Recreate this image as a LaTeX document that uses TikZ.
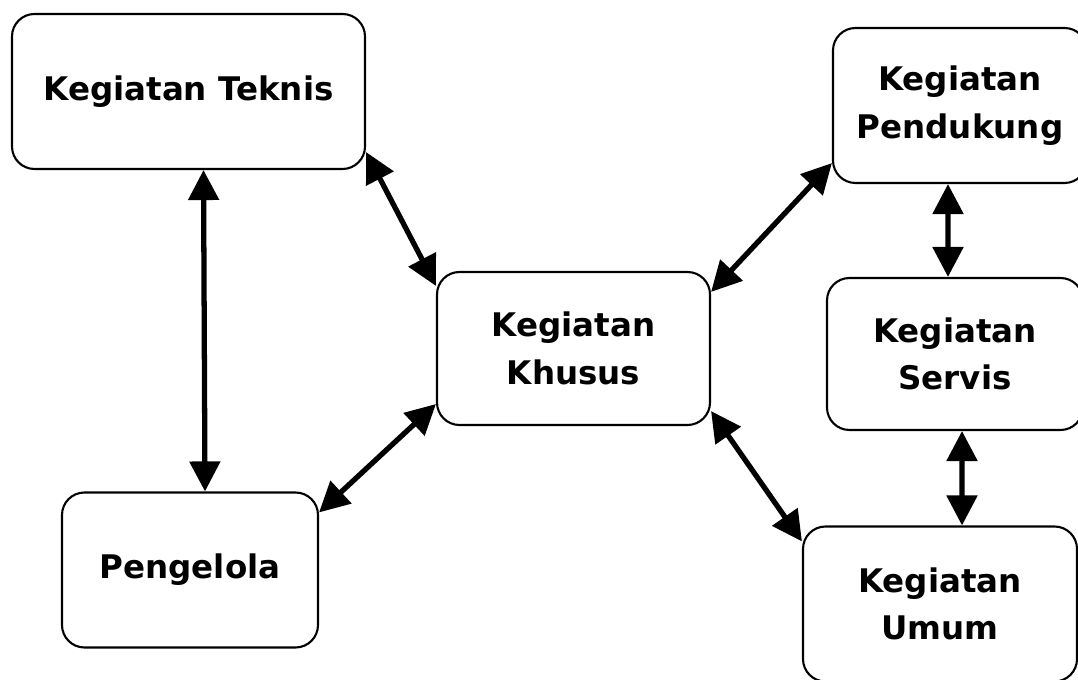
\documentclass[tikz,border=0pt]{standalone}
\usepackage{fontspec}
\setsansfont{DejaVu Sans}
\usepackage{tikz}
\usetikzlibrary{arrows.meta}

\begin{document}
\begin{tikzpicture}

		\tikzset{
			box/.style={
				draw,
				line width=1.2pt,
				rounded corners=0.45cm,
				minimum height=3.1cm,
				inner sep=0pt,
				align=center,
				font=\sffamily\bfseries\fontsize{18.5}{27}\selectfont
			},
			link/.style={
				{Triangle[length=6mm,width=6mm]}-{Triangle[length=6mm,width=6mm]},
				line width=3pt
			}
		}

		\useasboundingbox (0,0) rectangle (21.56,13.6);

		\node[box,minimum width=7.06cm] (T) at (3.77,11.77) {Kegiatan Teknis};
		\node[box,minimum width=5.08cm] (D) at (19.2,11.49) {Kegiatan\\Pendukung};
		\node[box,minimum width=5.46cm,minimum height=3.06cm] (K) at (11.47,6.63) {Kegiatan\\Khusus};
		\node[box,minimum width=5.12cm,minimum height=3.04cm] (S) at (19.1,6.52) {Kegiatan\\Servis};
		\node[box,minimum width=5.12cm] (P) at (3.8,2.2) {Pengelola};
		\node[box,minimum width=5.48cm] (U) at (18.8,1.52) {Kegiatan\\Umum};

		\draw[link] ([xshift=0.3cm]T.south) -- ([xshift=0.3cm]P.north);
		\draw[link] ([yshift=0.36cm]T.south east) -- ([yshift=-0.3cm]K.north west);
		\draw[link] ([yshift=0.42cm]D.south west) -- ([yshift=-0.42cm]K.north east);
		\draw[link] ([yshift=0.44cm]K.south west) -- ([yshift=-0.42cm]P.north east);
		\draw[link] ([yshift=0.3cm]K.south east) -- ([yshift=-0.32cm]U.north west);
		\draw[link] ([xshift=-0.24cm]D.south) -- ([xshift=-0.14cm]S.north);
		\draw[link] ([xshift=0.14cm]S.south) -- ([xshift=0.44cm]U.north);

	\end{tikzpicture}
\end{document}
